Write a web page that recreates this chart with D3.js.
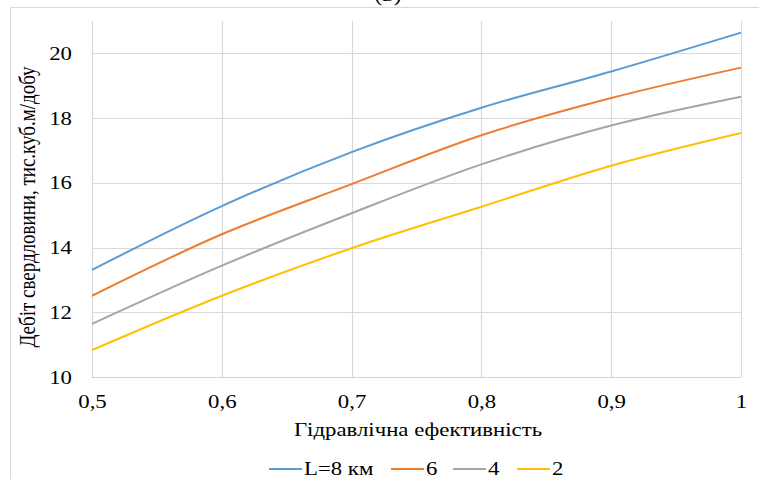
<!DOCTYPE html>
<html><head><meta charset="utf-8">
<script src="https://cdn.jsdelivr.net/npm/d3@7"></script>
<style>html,body{margin:0;padding:0;background:#fff;}svg{display:block;}</style>
</head><body>
<svg id="c" width="759" height="479"></svg>
<script>
const xValues = [0.5, 0.6, 0.7, 0.8, 0.9, 1.0];
const seriesNames = ["L=8 км", "6", "4", "2"];
const seriesL8 = [13.31, 15.28, 16.95, 18.32, 19.44, 20.64];
const seriesL6 = [12.51, 14.41, 15.96, 17.47, 18.62, 19.56];
const seriesL4 = [11.64, 13.44, 15.06, 16.57, 17.77, 18.66];
const seriesL2 = [10.83, 12.51, 13.98, 15.26, 16.53, 17.54];
const colors = ["#5B9BD5", "#ED7D31", "#A5A5A5", "#FFC000"];
const xTicks = [0.5, 0.6, 0.7, 0.8, 0.9, 1.0];
const yTicks = [10, 12, 14, 16, 18, 20];
const allSeries = [seriesL8, seriesL6, seriesL4, seriesL2];

const svg = d3.select("#c");
const FF = '"Liberation Serif"';
const SX = 1.2; // horizontal stretch of text seen in the reference

function stretch(sel) {
  sel.each(function() {
    const t = d3.select(this);
    const tx = +(t.attr("x") || 0);
    t.attr("transform", `translate(${tx},0) scale(${SX},1) translate(${-tx},0)`);
  });
}

svg.append("path").attr("d","M10.5,479 L10.5,7.5 L759,7.5").attr("fill","none").attr("stroke","#d9d9d9").attr("stroke-width",1);
svg.append("text").attr("x",388).attr("y",1).attr("text-anchor","middle")
  .style("font-family",FF).style("font-size","20px").attr("fill","#000").text("(в)").call(stretch);

const x = d3.scaleLinear().domain([0.5,1.0]).range([92,741]);
const y = d3.scaleLinear().domain([10,21]).range([377,21]);

const g = svg.append("g");
g.selectAll(".hg").data(yTicks.filter(d=>d>10)).join("line")
  .attr("x1",x(0.5)).attr("x2",x(1.0)).attr("y1",d=>Math.round(y(d))+0.5).attr("y2",d=>Math.round(y(d))+0.5)
  .attr("stroke","#d9d9d9").attr("stroke-width",1.2);
g.selectAll(".vg").data(xTicks).join("line")
  .attr("x1",d=>Math.round(x(d))+0.5).attr("x2",d=>Math.round(x(d))+0.5).attr("y1",y(21)).attr("y2",y(10))
  .attr("stroke","#d9d9d9").attr("stroke-width",1.2);
g.append("line").attr("x1",x(0.5)).attr("x2",x(1.0)).attr("y1",Math.round(y(10))+0.5).attr("y2",Math.round(y(10))+0.5)
  .attr("stroke","#d0d0d0").attr("stroke-width",1.2);

const fmt = d => d3.format("~g")(d).replace(".", ",");
const xAxis = svg.append("g").attr("transform",`translate(0,${y(10)})`)
  .call(d3.axisBottom(x).tickValues(xTicks).tickSize(0).tickPadding(18).tickFormat(fmt));
xAxis.select(".domain").remove();
xAxis.selectAll("text").style("font-family",FF).style("font-size","19px").attr("fill","#000").call(stretch);

const yAxis = svg.append("g").attr("transform",`translate(${x(0.5)},0)`)
  .call(d3.axisLeft(y).tickValues(yTicks).tickSize(0).tickPadding(20).tickFormat(d3.format("d")));
yAxis.select(".domain").remove();
yAxis.selectAll("text").style("font-family",FF).style("font-size","19px").attr("fill","#000").call(stretch);

const line = d3.line().x((d,i)=>x(xValues[i])).y(d=>y(d)).curve(d3.curveCatmullRom.alpha(0.5));
svg.selectAll(".ln").data(allSeries).join("path")
  .attr("d",d=>line(d)).attr("fill","none").attr("stroke",(d,i)=>colors[i]).attr("stroke-width",2);

svg.append("text").attr("x",418).attr("y",436).attr("text-anchor","middle")
  .style("font-family",FF).style("font-size","19px").attr("fill","#000").text("Гідравлічна ефективність").call(stretch);
svg.append("text").attr("transform",`translate(35,207) rotate(-90) scale(1,${SX})`).attr("text-anchor","middle")
  .style("font-family",FF).style("font-size","19px").attr("fill","#000").text("Дебіт свердловини, тис.куб.м/добу");

const legX = [269, 391, 453, 517];
const leg = svg.selectAll(".lg").data(seriesNames).join("g").attr("transform",(d,i)=>`translate(${legX[i]},469)`);
leg.append("line").attr("x1",0).attr("x2",33).attr("y1",0).attr("y2",0).attr("stroke",(d,i)=>colors[i]).attr("stroke-width",2);
leg.append("text").attr("x",35).attr("y",6).style("font-family",FF).style("font-size","19px").attr("fill","#000").text(d=>d).call(stretch);
</script>
</body></html>
